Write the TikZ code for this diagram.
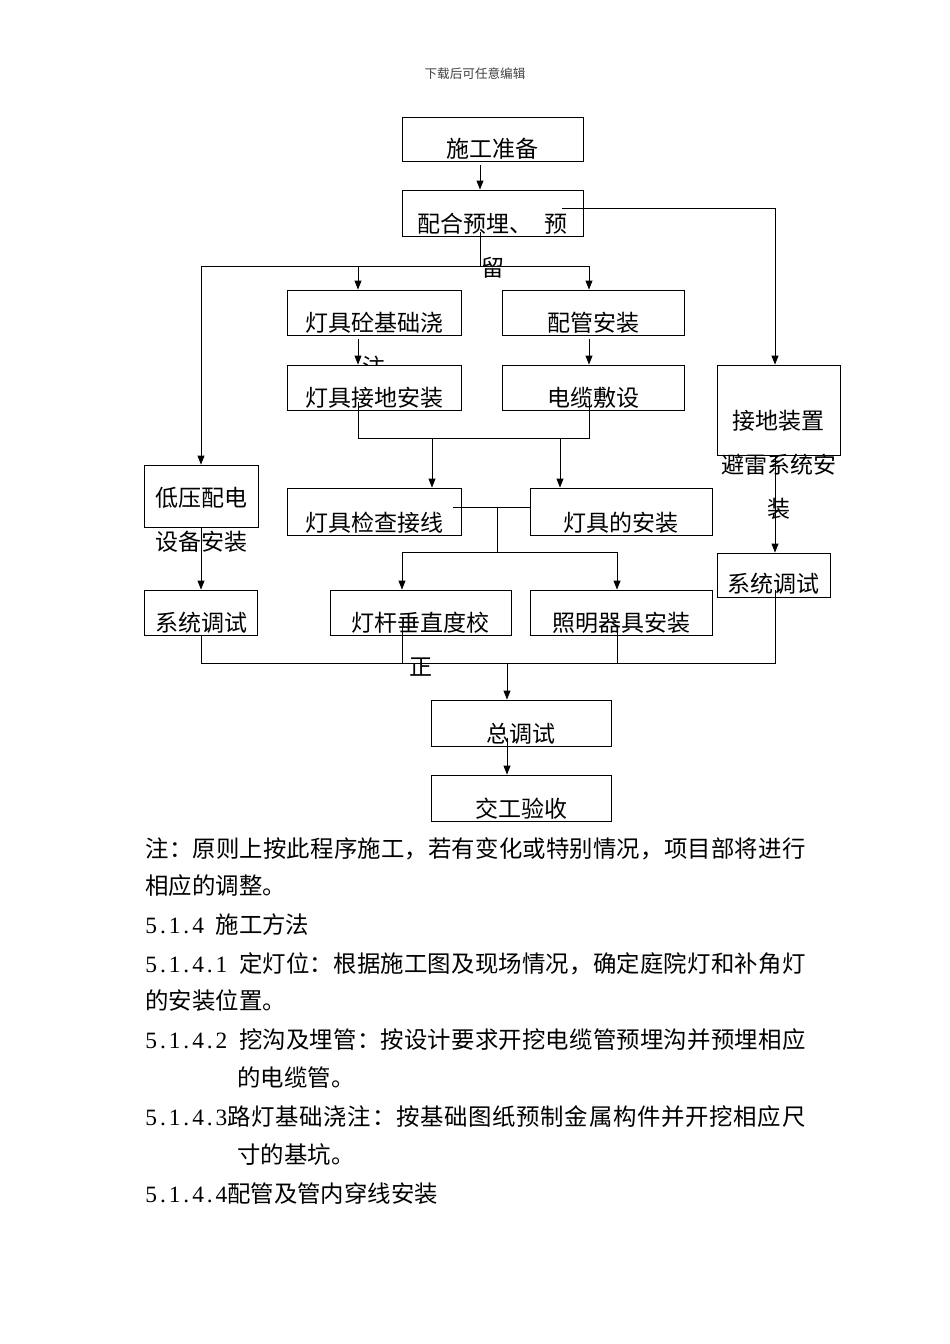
\documentclass[tikz,border=0pt]{standalone}
\usepackage{fontspec}
\usetikzlibrary{arrows.meta,positioning}
\newfontfamily\cjk{Noto Sans CJK SC}
\newfontfamily\numfont{Liberation Serif}
\def\digloop#1{\ifx\relax#1\else\makebox[0.5em]{#1}\expandafter\digloop\fi}
\newcommand\dig[1]{{\numfont\digloop#1\relax}}
\def\spreadchars#1{\ifx\relax#1\else#1\hfil\expandafter\spreadchars\fi}
\newcommand\fillline[2][]{\hbox to 660pt{#1\spreadchars#2\relax\unskip}}
\begin{document}
\begin{tikzpicture}[x=1pt, y=-1pt, line width=0.9pt,
	box/.style={rectangle, draw, fill=white, inner sep=0pt},
	lbl/.style={inner sep=0pt, align=center, font=\cjk\fontsize{23}{44}\selectfont},
	body/.style={anchor=west, inner sep=0pt, font=\cjk\fontsize{23.4}{28}\selectfont},
	arr/.style={-{Triangle[length=9pt,width=7pt]}}]
	\path[fill=white, use as bounding box] (0,0) rectangle (950,1344);
	\node (head) at (475, 74) [font=\cjk\fontsize{12.6}{15}\selectfont, text=black!75] {下载后可任意编辑};

	\node (prep)   at (492.5, 139)   [box, minimum width=181pt, minimum height=44pt] {};
	\node (prepT)  [lbl, below=21pt of prep.north]   {施工准备};
	\node (embed)  at (492.5, 213)   [box, minimum width=181pt, minimum height=46pt] {};
	\node (embedT) [lbl, below=23pt of embed.north]  {配合预埋、\enspace 预\\留};
	\node (found)  at (374, 312.5)   [box, minimum width=174pt, minimum height=45pt] {};
	\node (foundT) [lbl, below=22pt of found.north]  {灯具砼基础浇\\注};
	\node (pipe)   at (593, 312.5)   [box, minimum width=182pt, minimum height=45pt] {};
	\node (pipeT)  [lbl, below=22pt of pipe.north]   {配管安装};
	\node (ground) at (374, 387.5)   [box, minimum width=174pt, minimum height=45pt] {};
	\node (groundT)[lbl, below=22pt of ground.north] {灯具接地安装};
	\node (cable)  at (593, 387.5)   [box, minimum width=182pt, minimum height=45pt] {};
	\node (cableT) [lbl, below=22pt of cable.north]  {电缆敷设};
	\node (earth)  at (778.5, 410)   [box, minimum width=123pt, minimum height=90pt] {};
	\node (earthT) [lbl, below=45pt of earth.north]  {接地装置\\避雷系统安\\装};
	\node (lowv)   at (201, 496)     [box, minimum width=114pt, minimum height=62pt] {};
	\node (lowvT)  [lbl, below=22pt of lowv.north]   {低压配电\\设备安装};
	\node (check)  at (374, 511.5)   [box, minimum width=174pt, minimum height=47pt] {};
	\node (checkT) [lbl, below=24pt of check.north]  {灯具检查接线};
	\node (mount)  at (621, 511.5)   [box, minimum width=182pt, minimum height=47pt] {};
	\node (mountT) [lbl, below=24pt of mount.north]  {灯具的安装};
	\node (testR)  at (773.5, 575)   [box, minimum width=113pt, minimum height=44pt] {};
	\node (testRT) [lbl, below=20pt of testR.north]  {系统调试};
	\node (testL)  at (201, 612.5)   [box, minimum width=113pt, minimum height=45pt] {};
	\node (testLT) [lbl, below=22pt of testL.north]  {系统调试};
	\node (pole)   at (420.5, 612.5) [box, minimum width=181pt, minimum height=45pt] {};
	\node (poleT)  [lbl, below=22pt of pole.north]   {灯杆垂直度校\\正};
	\node (fixt)   at (621, 612.5)   [box, minimum width=182pt, minimum height=45pt] {};
	\node (fixtT)  [lbl, below=22pt of fixt.north]   {照明器具安装};
	\node (total)  at (521, 723)     [box, minimum width=180pt, minimum height=46pt] {};
	\node (totalT) [lbl, below=23pt of total.north]  {总调试};
	\node (accept) at (521, 798)     [box, minimum width=180pt, minimum height=46pt] {};
	\node (acceptT)[lbl, below=23pt of accept.north] {交工验收};

	\coordinate (eB)   at (480, 232);
	\coordinate (sp1)  at (480, 266);
	\coordinate (sp1L) at (201, 266);
	\coordinate (sp1a) at (358, 266);
	\coordinate (sp1R) at (589, 266);
	\coordinate (eR)   at (562, 208);
	\coordinate (eRc)  at (775, 208);
	\coordinate (gB)   at (358, 402);
	\coordinate (cB)   at (589, 402);
	\coordinate (sp2L) at (358, 438);
	\coordinate (sp2R) at (589, 438);
	\coordinate (sp2a) at (432, 438);
	\coordinate (sp2b) at (560, 438);
	\coordinate (kR)   at (453, 507);
	\coordinate (jn)   at (497, 507);
	\coordinate (sp3)  at (497, 552);
	\coordinate (sp3L) at (402, 552);
	\coordinate (sp3R) at (617, 552);
	\coordinate (pB)   at (402, 627);
	\coordinate (fB)   at (617, 627);
	\coordinate (rB)   at (775, 590);
	\coordinate (bL)   at (201, 663);
	\coordinate (bR)   at (775, 663);
	\coordinate (sp4)  at (507, 663);
	\coordinate (tB)   at (507, 738);

	\draw[arr, shorten <=4pt] (prep.south -| eB) -- (embed.north -| eB);
	\draw (eB) -- (sp1);
	\draw (sp1L) -- (sp1R);
	\draw[arr] (sp1L) -- (lowv.north);
	\draw[arr] (sp1a) -- (sp1a |- found.north);
	\draw[arr] (sp1R) -- (sp1R |- pipe.north);
	\draw (eR) -- (eRc);
	\draw[arr] (eRc) -- (eRc |- earth.north);
	\draw[arr, shorten <=4pt] (sp1a |- found.south) -- (sp1a |- ground.north);
	\draw[arr, shorten <=4pt] (sp1R |- pipe.south) -- (sp1R |- cable.north);
	\draw (gB) -- (sp2L) -- (sp2R) -- (cB);
	\draw[arr] (sp2a) -- (sp2a |- check.north);
	\draw[arr] (sp2b) -- (sp2b |- mount.north);
	\draw (kR) -- (kR -| mount.west);
	\draw (jn) -- (sp3);
	\draw (sp3L) -- (sp3R);
	\draw[arr] (sp3L) -- (sp3L |- pole.north);
	\draw[arr] (sp3R) -- (sp3R |- fixt.north);
	\draw[arr] (lowv.south) -- (testL.north);
	\draw[arr] (eRc |- earth.south) -- (eRc |- testR.north);
	\draw (testL.south) -- (bL) -- (bR) -- (rB);
	\draw (pB) -- (pB |- bL);
	\draw (fB) -- (fB |- bL);
	\draw[arr] (sp4) -- (sp4 |- total.north);
	\draw[arr] (tB) -- (tB |- accept.north);

	\node (n1)  at (145, 849)  [body] {\fillline{注：原则上按此程序施工，若有变化或特别情况，项目部将进行}};
	\node (n2)  at (145, 886)  [body] {相应的调整。};
	\node (n3)  at (145, 925)  [body] {\dig{5.1.4\enspace}施工方法};
	\node (n4)  at (145, 964)  [body] {\fillline[\dig{5.1.4.1\enspace}]{定灯位：根据施工图及现场情况，确定庭院灯和补角灯}};
	\node (n5)  at (145, 1001) [body] {的安装位置。};
	\node (n6)  at (145, 1040) [body] {\fillline[\dig{5.1.4.2\enspace}]{挖沟及埋管：按设计要求开挖电缆管预埋沟并预埋相应}};
	\node (n7)  at (237, 1078) [body] {的电缆管。};
	\node (n8)  at (145, 1117) [body] {\fillline[\dig{5.1.4.3}]{路灯基础浇注：按基础图纸预制金属构件并开挖相应尺}};
	\node (n9)  at (237, 1155) [body] {寸的基坑。};
	\node (n10) at (145, 1194) [body] {\dig{5.1.4.4}配管及管内穿线安装};
\end{tikzpicture}
\end{document}
